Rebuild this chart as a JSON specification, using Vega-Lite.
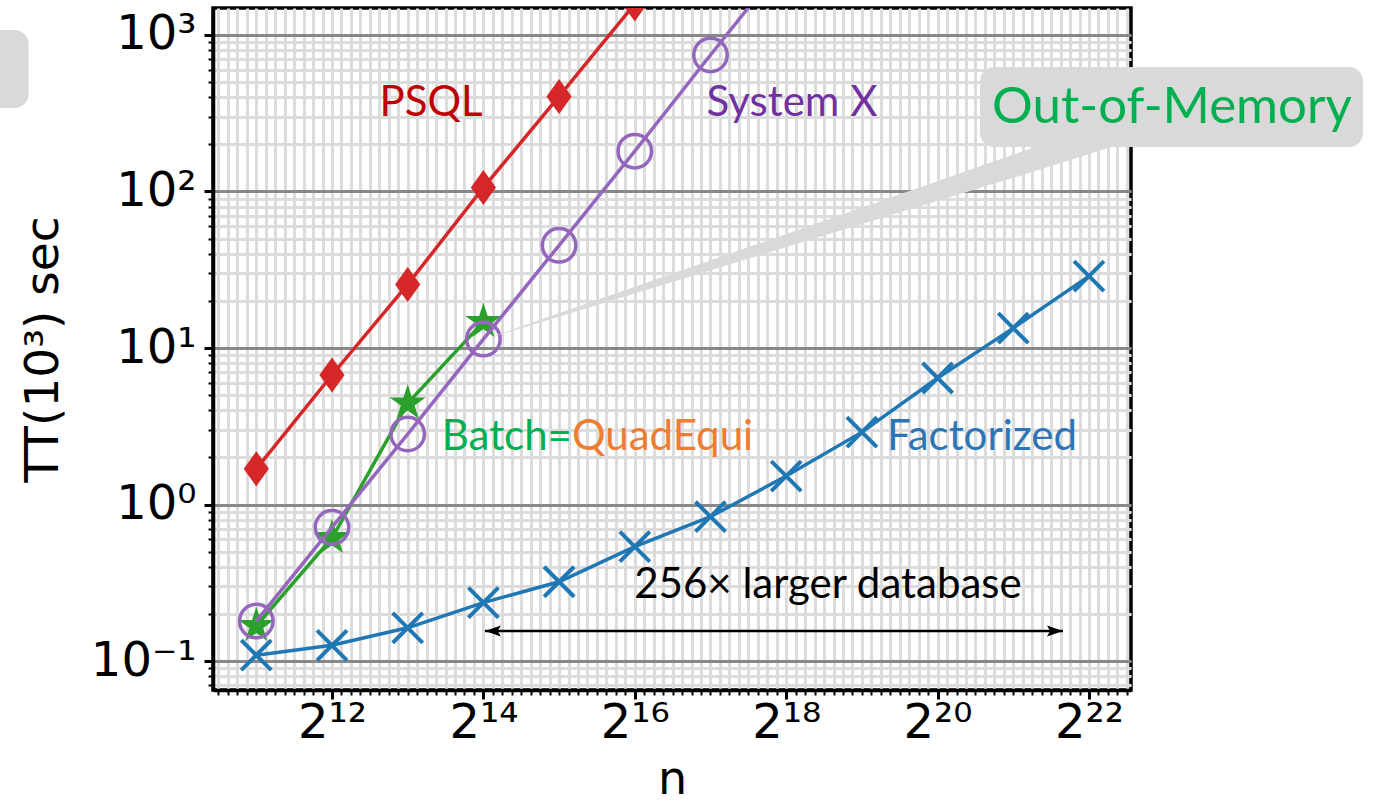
{
  "$schema": "https://vega.github.io/schema/vega-lite/v6.json",
  "width": 918,
  "height": 682,
  "autosize": {"type": "none"},
  "padding": {"left": 213, "top": 8, "right": 247, "bottom": 121},
  "background": "white",
  "config": {
    "view": {"stroke": "black", "strokeWidth": 3.5},
    "axis": {"labelFont": "DejaVu Sans", "titleFont": "DejaVu Sans", "labelColor": "black", "titleColor": "black", "tickColor": "black", "domainColor": "black", "titleFontWeight": "normal"}
  },
  "datasets": {
    "series": [
      {"system": "PSQL", "n": 2048, "t": 1.69},
      {"system": "PSQL", "n": 4096, "t": 6.72},
      {"system": "PSQL", "n": 8192, "t": 25.5},
      {"system": "PSQL", "n": 16384, "t": 106},
      {"system": "PSQL", "n": 32768, "t": 405},
      {"system": "PSQL", "n": 65536, "t": 1580},
      {"system": "System X", "n": 2048, "t": 0.18},
      {"system": "System X", "n": 4096, "t": 0.715},
      {"system": "System X", "n": 8192, "t": 2.82},
      {"system": "System X", "n": 16384, "t": 11.4},
      {"system": "System X", "n": 32768, "t": 45.3},
      {"system": "System X", "n": 65536, "t": 181},
      {"system": "System X", "n": 131072, "t": 745},
      {"system": "System X", "n": 262144, "t": 3000},
      {"system": "Batch", "n": 2048, "t": 0.168},
      {"system": "Batch", "n": 4096, "t": 0.611},
      {"system": "Batch", "n": 8192, "t": 4.43},
      {"system": "Batch", "n": 16384, "t": 14.7},
      {"system": "Factorized", "n": 2048, "t": 0.109},
      {"system": "Factorized", "n": 4096, "t": 0.126},
      {"system": "Factorized", "n": 8192, "t": 0.163},
      {"system": "Factorized", "n": 16384, "t": 0.236},
      {"system": "Factorized", "n": 32768, "t": 0.321},
      {"system": "Factorized", "n": 65536, "t": 0.538},
      {"system": "Factorized", "n": 131072, "t": 0.836},
      {"system": "Factorized", "n": 262144, "t": 1.52},
      {"system": "Factorized", "n": 524288, "t": 2.9},
      {"system": "Factorized", "n": 1048576, "t": 6.43},
      {"system": "Factorized", "n": 2097152, "t": 13.4},
      {"system": "Factorized", "n": 4194304, "t": 28.8}
    ],
    "labels": [
      {"label": "PSQL", "n": 10142, "t": 303.6},
      {"label": "System X", "n": 276500, "t": 303.6},
      {"label": "Factorized", "n": 1575000, "t": 2.23},
      {"label": "256× larger database", "n": 384300, "t": 0.253}
    ],
    "batchLeft": [{"label": "Batch=", "n": 36860, "t": 2.23}],
    "batchRight": [{"label": "QuadEqui", "n": 36860, "t": 2.23}],
    "oom": [{"label": "Out-of-Memory", "n": 8966000, "t": 274}],
    "boxes": [
      {"box": "callout", "n": 1545600, "n2": 51570000, "t": 625, "t2": 192.4},
      {"box": "fragment", "n": 100, "n2": 254.6, "t": 1077, "t2": 342}
    ],
    "wedge": [
      {"n": 16384, "t": 11.3, "t2": 11.3},
      {"n": 2558700, "t": 192.4, "t2": 135},
      {"n": 5163600, "t": 192.4, "t2": 192.4}
    ],
    "arrow": [{"n": 16613, "n2": 3304500, "t": 0.1555}],
    "arrowheads": [
      {"dir": "left", "n": 16613, "t": 0.1555},
      {"dir": "right", "n": 3304500, "t": 0.1555}
    ]
  },
  "resolve": {"axis": {"x": "independent", "y": "independent"}},
  "layer": [
    {
      "data": {"name": "series"},
      "mark": {"type": "point", "opacity": 0},
      "encoding": {
        "x": {"field": "n", "type": "quantitative",
          "scale": {"type": "log", "base": 2, "domain": [1377.7, 6162300], "nice": false},
          "axis": {"orient": "bottom", "title": null, "labels": false, "domain": false, "grid": true, "gridColor": "#dcdcdc", "gridWidth": 3, "ticks": true, "tickSize": 5, "tickWidth": 2,
            "values": [1448, 1579, 1722, 1878, 2048, 2233, 2435, 2656, 2896, 3158, 3444, 3756, 4096, 4467, 4871, 5312, 5793, 6317, 6889, 7512, 8192, 8933, 9742, 10623, 11585, 12634, 13777, 15024, 16384, 17867, 19484, 21247, 23170, 25268, 27554, 30048, 32768, 35734, 38968, 42494, 46341, 50535, 55109, 60097, 65536, 71468, 77936, 84989, 92682, 101070, 110218, 120194, 131072, 142935, 155872, 169978, 185364, 202141, 220436, 240388, 262144, 285870, 311744, 339956, 370728, 404281, 440872, 480777, 524288, 571740, 623487, 679913, 741455, 808563, 881744, 961553, 1048576, 1143480, 1246974, 1359826, 1482910, 1617125, 1763488, 1923106, 2097152, 2286960, 2493948, 2719652, 2965821, 3234251, 3526976, 3846212, 4194304, 4573920, 4987896, 5439305, 5931642]}},
        "y": {"field": "t", "type": "quantitative",
          "scale": {"type": "log", "domain": [0.06528, 1487.6], "nice": false},
          "axis": {"orient": "left", "title": null, "labels": false, "domain": false, "grid": true, "gridColor": "#dcdcdc", "gridWidth": 3, "ticks": true, "tickSize": 5, "tickWidth": 2,
            "values": [0.07, 0.08, 0.09, 0.2, 0.3, 0.4, 0.5, 0.6, 0.7, 0.8, 0.9, 2, 3, 4, 5, 6, 7, 8, 9, 20, 30, 40, 50, 60, 70, 80, 90, 200, 300, 400, 500, 600, 700, 800, 900]}}
      }
    },
    {
      "data": {"name": "series"},
      "transform": [{"filter": "datum.system == 'Batch'"}],
      "mark": {"type": "line", "color": "#2ca02c", "strokeWidth": 3.5, "clip": true},
      "encoding": {
        "x": {"field": "n", "type": "quantitative",
          "scale": {"type": "log", "base": 2, "domain": [1377.7, 6162300], "nice": false},
          "axis": {"orient": "bottom", "values": [4096, 16384, 65536, 262144, 1048576, 4194304], "grid": false, "tickSize": 9, "tickWidth": 3, "labelFontSize": 48, "labelPadding": 0, "labelOverlap": false, "labelFlush": false, "domain": true, "domainWidth": 3.5,
            "labelExpr": "datum.value == 4096 ? '2¹²' : datum.value == 16384 ? '2¹⁴' : datum.value == 65536 ? '2¹⁶' : datum.value == 262144 ? '2¹⁸' : datum.value == 1048576 ? '2²⁰' : '2²²'",
            "title": "n", "titleFontSize": 46, "titlePadding": 10}},
        "y": {"field": "t", "type": "quantitative",
          "scale": {"type": "log", "domain": [0.06528, 1487.6], "nice": false},
          "axis": {"orient": "left", "values": [0.1, 1, 10, 100, 1000], "grid": true, "gridColor": "#888888", "gridWidth": 3, "tickSize": 9, "tickWidth": 3, "labelFontSize": 48, "labelPadding": 8, "labelOverlap": false, "labelFlush": false, "domain": true, "domainWidth": 3.5,
            "labelExpr": "datum.value >= 999 ? '10³' : datum.value >= 99 ? '10²' : datum.value >= 9 ? '10¹' : datum.value >= 0.9 ? '10⁰' : '10⁻¹'",
            "title": "TT(10³) sec", "titleFontSize": 47, "titlePadding": 23}}
      }
    },
    {
      "data": {"name": "series"},
      "transform": [{"filter": "datum.system == 'Batch'"}],
      "mark": {"type": "point", "shape": "M0,-1L0.2245,-0.309L0.9511,-0.309L0.3633,0.118L0.5878,0.809L0,0.382L-0.5878,0.809L-0.3633,0.118L-0.9511,-0.309L-0.2245,-0.309Z", "filled": true, "color": "#2ca02c", "size": 1444, "opacity": 1, "clip": true},
      "encoding": {
        "x": {"field": "n", "type": "quantitative", "scale": {"type": "log", "base": 2, "domain": [1377.7, 6162300], "nice": false}, "axis": null},
        "y": {"field": "t", "type": "quantitative", "scale": {"type": "log", "domain": [0.06528, 1487.6], "nice": false}, "axis": null}
      }
    },
    {
      "data": {"name": "series"},
      "transform": [{"filter": "datum.system == 'Factorized'"}],
      "mark": {"type": "line", "color": "#1f77b4", "strokeWidth": 3.5, "clip": true},
      "encoding": {
        "x": {"field": "n", "type": "quantitative", "scale": {"type": "log", "base": 2, "domain": [1377.7, 6162300], "nice": false}, "axis": null},
        "y": {"field": "t", "type": "quantitative", "scale": {"type": "log", "domain": [0.06528, 1487.6], "nice": false}, "axis": null}
      }
    },
    {
      "data": {"name": "series"},
      "transform": [{"filter": "datum.system == 'Factorized'"}],
      "mark": {"type": "point", "shape": "M-1,-1L1,1M-1,1L1,-1", "filled": false, "stroke": "#1f77b4", "strokeWidth": 4, "size": 900, "opacity": 1, "clip": true},
      "encoding": {
        "x": {"field": "n", "type": "quantitative", "scale": {"type": "log", "base": 2, "domain": [1377.7, 6162300], "nice": false}, "axis": null},
        "y": {"field": "t", "type": "quantitative", "scale": {"type": "log", "domain": [0.06528, 1487.6], "nice": false}, "axis": null}
      }
    },
    {
      "data": {"name": "series"},
      "transform": [{"filter": "datum.system == 'System X'"}],
      "mark": {"type": "line", "color": "#9467bd", "strokeWidth": 3.5, "clip": true},
      "encoding": {
        "x": {"field": "n", "type": "quantitative", "scale": {"type": "log", "base": 2, "domain": [1377.7, 6162300], "nice": false}, "axis": null},
        "y": {"field": "t", "type": "quantitative", "scale": {"type": "log", "domain": [0.06528, 1487.6], "nice": false}, "axis": null}
      }
    },
    {
      "data": {"name": "series"},
      "transform": [{"filter": "datum.system == 'System X'"}],
      "mark": {"type": "point", "shape": "circle", "filled": false, "stroke": "#9467bd", "strokeWidth": 3.5, "size": 1120, "opacity": 1, "clip": true},
      "encoding": {
        "x": {"field": "n", "type": "quantitative", "scale": {"type": "log", "base": 2, "domain": [1377.7, 6162300], "nice": false}, "axis": null},
        "y": {"field": "t", "type": "quantitative", "scale": {"type": "log", "domain": [0.06528, 1487.6], "nice": false}, "axis": null}
      }
    },
    {
      "data": {"name": "series"},
      "transform": [{"filter": "datum.system == 'PSQL'"}],
      "mark": {"type": "line", "color": "#d62728", "strokeWidth": 3.5, "clip": true},
      "encoding": {
        "x": {"field": "n", "type": "quantitative", "scale": {"type": "log", "base": 2, "domain": [1377.7, 6162300], "nice": false}, "axis": null},
        "y": {"field": "t", "type": "quantitative", "scale": {"type": "log", "domain": [0.06528, 1487.6], "nice": false}, "axis": null}
      }
    },
    {
      "data": {"name": "series"},
      "transform": [{"filter": "datum.system == 'PSQL'"}],
      "mark": {"type": "point", "shape": "M0,-1L0.72,0L0,1L-0.72,0Z", "filled": true, "color": "#d62728", "size": 1225, "opacity": 1, "clip": true},
      "encoding": {
        "x": {"field": "n", "type": "quantitative", "scale": {"type": "log", "base": 2, "domain": [1377.7, 6162300], "nice": false}, "axis": null},
        "y": {"field": "t", "type": "quantitative", "scale": {"type": "log", "domain": [0.06528, 1487.6], "nice": false}, "axis": null}
      }
    },
    {
      "data": {"name": "arrow"},
      "mark": {"type": "rule", "color": "black", "strokeWidth": 2.5},
      "encoding": {
        "x": {"field": "n", "type": "quantitative", "scale": {"type": "log", "base": 2, "domain": [1377.7, 6162300], "nice": false}, "axis": null},
        "x2": {"field": "n2"},
        "y": {"field": "t", "type": "quantitative", "scale": {"type": "log", "domain": [0.06528, 1487.6], "nice": false}, "axis": null}
      }
    },
    {
      "data": {"name": "arrowheads"},
      "mark": {"type": "point", "filled": true, "color": "black", "size": 256, "opacity": 1},
      "encoding": {
        "x": {"field": "n", "type": "quantitative", "scale": {"type": "log", "base": 2, "domain": [1377.7, 6162300], "nice": false}, "axis": null},
        "y": {"field": "t", "type": "quantitative", "scale": {"type": "log", "domain": [0.06528, 1487.6], "nice": false}, "axis": null},
        "shape": {"field": "dir", "type": "nominal", "legend": null,
          "scale": {"domain": ["left", "right"], "range": ["M0,0L2,-0.7L1.6,0L2,0.7Z", "M0,0L-2,-0.7L-1.6,0L-2,0.7Z"]}}
      }
    },
    {
      "data": {"name": "labels"},
      "mark": {"type": "text", "font": "Lato", "fontSize": 42, "align": "center", "baseline": "alphabetic"},
      "encoding": {
        "x": {"field": "n", "type": "quantitative", "scale": {"type": "log", "base": 2, "domain": [1377.7, 6162300], "nice": false}, "axis": null},
        "y": {"field": "t", "type": "quantitative", "scale": {"type": "log", "domain": [0.06528, 1487.6], "nice": false}, "axis": null},
        "text": {"field": "label"},
        "color": {"field": "label", "type": "nominal", "legend": null,
          "scale": {"domain": ["PSQL", "System X", "Factorized", "256× larger database", "Batch=", "QuadEqui", "Out-of-Memory"],
                    "range": ["#c00000", "#7030a0", "#2e75b6", "#000000", "#00b050", "#ed7d31", "#00b050"]}}
      }
    },
    {
      "data": {"name": "batchLeft"},
      "mark": {"type": "text", "font": "Lato", "fontSize": 42, "align": "right", "baseline": "alphabetic"},
      "encoding": {
        "x": {"field": "n", "type": "quantitative", "scale": {"type": "log", "base": 2, "domain": [1377.7, 6162300], "nice": false}, "axis": null},
        "y": {"field": "t", "type": "quantitative", "scale": {"type": "log", "domain": [0.06528, 1487.6], "nice": false}, "axis": null},
        "text": {"field": "label"},
        "color": {"field": "label", "type": "nominal", "legend": null}
      }
    },
    {
      "data": {"name": "batchRight"},
      "mark": {"type": "text", "font": "Lato", "fontSize": 42, "align": "left", "baseline": "alphabetic"},
      "encoding": {
        "x": {"field": "n", "type": "quantitative", "scale": {"type": "log", "base": 2, "domain": [1377.7, 6162300], "nice": false}, "axis": null},
        "y": {"field": "t", "type": "quantitative", "scale": {"type": "log", "domain": [0.06528, 1487.6], "nice": false}, "axis": null},
        "text": {"field": "label"},
        "color": {"field": "label", "type": "nominal", "legend": null}
      }
    },
    {
      "data": {"name": "wedge"},
      "mark": {"type": "area", "color": "#d9d9d9", "opacity": 1, "interpolate": "linear"},
      "encoding": {
        "x": {"field": "n", "type": "quantitative", "scale": {"type": "log", "base": 2, "domain": [1377.7, 6162300], "nice": false}, "axis": null},
        "y": {"field": "t", "type": "quantitative", "scale": {"type": "log", "domain": [0.06528, 1487.6], "nice": false}, "axis": null},
        "y2": {"field": "t2"}
      }
    },
    {
      "data": {"name": "boxes"},
      "mark": {"type": "rect", "color": "#d9d9d9", "cornerRadius": 14, "opacity": 1},
      "encoding": {
        "x": {"field": "n", "type": "quantitative", "scale": {"type": "log", "base": 2, "domain": [1377.7, 6162300], "nice": false}, "axis": null},
        "x2": {"field": "n2"},
        "y": {"field": "t", "type": "quantitative", "scale": {"type": "log", "domain": [0.06528, 1487.6], "nice": false}, "axis": null},
        "y2": {"field": "t2"}
      }
    },
    {
      "data": {"name": "oom"},
      "mark": {"type": "text", "font": "Lato", "fontSize": 51, "align": "center", "baseline": "alphabetic"},
      "encoding": {
        "x": {"field": "n", "type": "quantitative", "scale": {"type": "log", "base": 2, "domain": [1377.7, 6162300], "nice": false}, "axis": null},
        "y": {"field": "t", "type": "quantitative", "scale": {"type": "log", "domain": [0.06528, 1487.6], "nice": false}, "axis": null},
        "text": {"field": "label"},
        "color": {"field": "label", "type": "nominal", "legend": null}
      }
    }
  ]
}
